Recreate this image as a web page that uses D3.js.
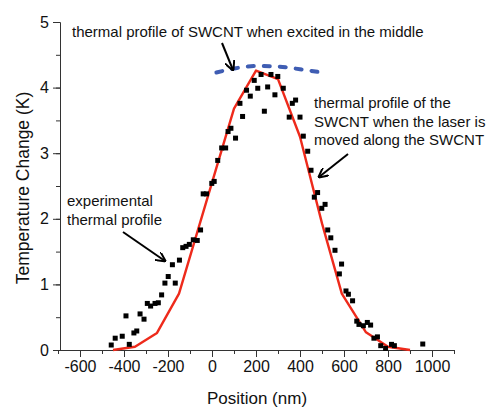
<!DOCTYPE html>
<html><head><meta charset="utf-8">
<script src="https://cdn.jsdelivr.net/npm/d3@7"></script>
<style>body{margin:0;background:#fff}svg{display:block}text{font-family:"Liberation Sans",Arial,sans-serif}</style>
</head><body><svg id="c" width="490" height="410"></svg>
<script>
// experimental thermal profile (position nm, temperature change K)
const expPos = [-458,-440,-408,-391,-376,-355,-342,-327,-309,-294,-279,-259,-244,-229,-214,-199,-180,-167,-148,-133,-118,-103,-85,-67,-52,-40,-25,-1,10,
  26,44,62,73,86,107,127,139,157,174,192,208,223,238,253,268,286,299,324,351,365,380,400,415,435,450,465,480,499,514,
  526,540,559,579,589,609,620,639,658,668,688,706,721,736,752,767,789,816,829,958];
const expVal = [0.076,0.18,0.21,0.52,0.086,0.26,0.29,0.55,0.47,0.71,0.67,0.71,0.72,0.84,1.02,1.12,1.30,1.02,1.37,1.56,1.58,1.61,1.68,1.67,1.83,2.38,2.38,2.54,2.57,
  2.89,3.08,3.08,3.33,3.38,3.23,3.76,3.56,3.96,3.87,4.11,3.99,4.20,3.64,4.01,4.20,3.89,4.17,3.99,3.55,3.76,3.81,3.55,3.26,3.03,2.74,2.33,2.40,2.16,2.22,
  1.83,1.71,1.52,1.16,1.31,0.90,0.85,0.75,0.44,0.39,0.37,0.42,0.38,0.18,0.20,0.066,0.025,0.086,0.066,0.091];
// thermal profile when laser moved along SWCNT (red line)
const movedPos = [-450,-350,-250,-150,100,200,300,400,500,590,700,800,900];
const movedVal = [0,0.05,0.26,0.86,3.68,4.26,4.13,3.25,1.93,0.86,0.27,0.05,0];
// thermal profile when excited in the middle (blue dashed)
const midPos = [20,100,200,300,400,480];
const midVal = [4.23,4.29,4.33,4.32,4.28,4.24];
const xTicks = [-600,-400,-200,0,200,400,600,800,1000];
const yTicks = [0,1,2,3,4,5];

const svg = d3.select("#c");
const x = d3.scaleLinear().domain([-700,1100]).range([58,454]);
const y = d3.scaleLinear().domain([0,5]).range([350,22]);

// axes
svg.append("g").attr("transform","translate(0,350)")
  .call(d3.axisBottom(x).tickValues(d3.range(-700,1101,100)).tickSize(4).tickFormat(""));
svg.append("g").attr("transform","translate(0,350)")
  .call(d3.axisBottom(x).tickValues(xTicks).tickSize(7).tickPadding(4).tickFormat(d=>String(d)))
  .call(g=>g.select(".domain").remove());
svg.append("g").attr("transform","translate(60,0)")
  .call(d3.axisLeft(y).tickValues(d3.range(0,5.01,0.5)).tickSize(4).tickFormat(""));
svg.append("g").attr("transform","translate(60,0)")
  .call(d3.axisLeft(y).tickValues(yTicks).tickSize(7).tickPadding(4).tickFormat(d=>String(d)))
  .call(g=>g.select(".domain").remove());
svg.selectAll(".domain, .tick line").attr("stroke","#333");
svg.selectAll(".tick text").attr("font-size",16).attr("fill","#111");

// axis titles
svg.append("text").attr("x",257).attr("y",404).attr("text-anchor","middle").attr("font-size",17).attr("fill","#111").text("Position (nm)");
svg.append("text").attr("transform","translate(29,188) rotate(-90)").attr("text-anchor","middle").attr("font-size",17.5).attr("fill","#111").text("Temperature Change (K)");

// red line
svg.append("path").datum(movedPos.map((p,i)=>[p,movedVal[i]]))
  .attr("fill","none").attr("stroke","#ee2a1b").attr("stroke-width",2.4).attr("stroke-linejoin","round")
  .attr("d",d3.line().x(d=>x(d[0])).y(d=>y(d[1])));
// blue dashed
svg.append("path").datum(midPos.map((p,i)=>[p,midVal[i]]))
  .attr("fill","none").attr("stroke","#3f5db3").attr("stroke-width",4).attr("stroke-dasharray","6 10").attr("stroke-linecap","round")
  .attr("d",d3.line().curve(d3.curveMonotoneX).x(d=>x(d[0])).y(d=>y(d[1])));
// squares
svg.append("g").selectAll("rect").data(expPos.map((p,i)=>[p,expVal[i]])).join("rect")
  .attr("x",d=>x(d[0])-2.5).attr("y",d=>y(d[1])-2.5).attr("width",5).attr("height",5).attr("fill","#000");

// annotations
const defs = svg.append("defs");
defs.append("marker").attr("id","ah").attr("viewBox","0 0 10 10").attr("refX",9).attr("refY",5)
  .attr("markerWidth",5).attr("markerHeight",5).attr("orient","auto")
  .append("path").attr("d","M0,0L10,5L0,10").attr("fill","none").attr("stroke","#000").attr("stroke-width",2);
function arrow(x1,y1,x2,y2){svg.append("line").attr("x1",x1).attr("y1",y1).attr("x2",x2).attr("y2",y2)
  .attr("stroke","#000").attr("stroke-width",2).attr("marker-end","url(#ah)");}
function label(lines,x0,y0,lh){const t=svg.append("text").attr("font-size",15).attr("fill","#111");
  lines.forEach((s,i)=>t.append("tspan").attr("x",x0).attr("y",y0+i*lh).text(s));}
label(["thermal profile of SWCNT when excited in the middle"],72,37,18);
arrow(222,43,233,70);
label(["thermal profile of the","SWCNT when the laser is","moved along the SWCNT"],314,108,18.5);
arrow(348,154,319,177);
label(["experimental","thermal profile"],67,206,18.5);
arrow(123,232,165,261);
</script></body></html>
